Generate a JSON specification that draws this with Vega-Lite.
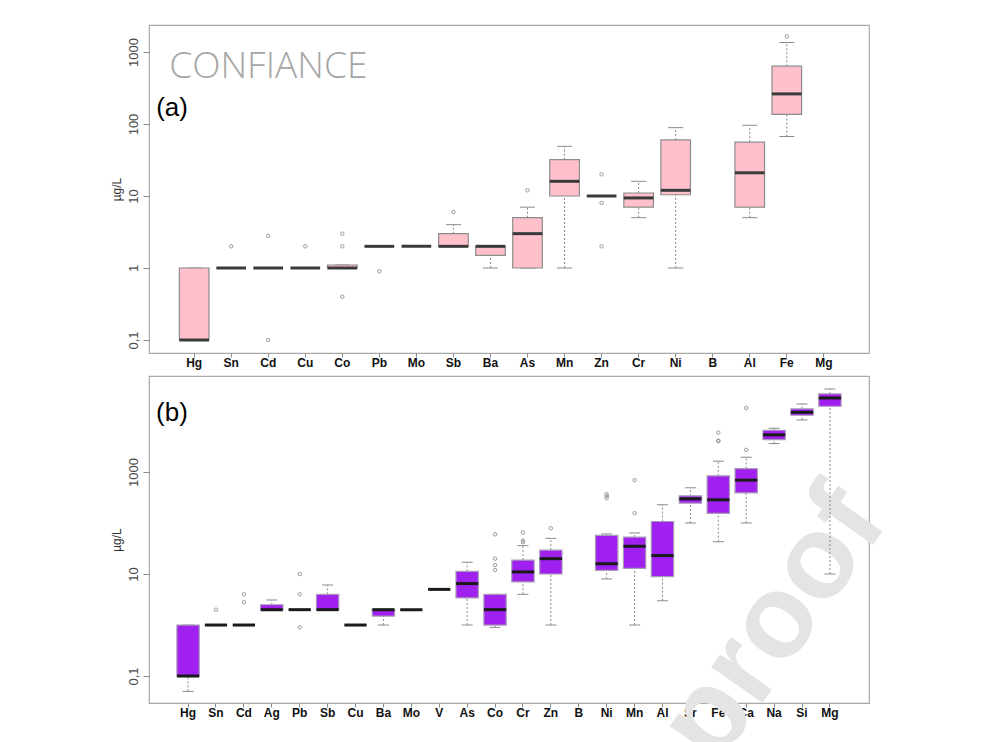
{
  "$schema": "https://vega.github.io/schema/vega-lite/v6.json",
  "background": "white",
  "padding": {"left": 109, "top": 24, "right": 5, "bottom": 5},
  "bounds": "flush",
  "spacing": 23,
  "config": {
    "view": {"stroke": "#a8a8a8", "strokeWidth": 1.2},
    "tick": {"opacity": 1},
    "point": {"opacity": 1},
    "axis": {"domain": false, "grid": false, "tickColor": "#8a8a8a", "labelFont": "Liberation Sans", "titleFont": "Liberation Sans"},
    "axisX": {"labelFontWeight": "bold", "labelFontSize": 12, "labelColor": "#111111", "tickSize": 4, "labelPadding": 0, "labelAngle": 0, "labelOverlap": false},
    "axisY": {"labelAngle": 270, "labelAlign": "center", "labelBaseline": "alphabetic", "labelFontSize": 13, "labelColor": "#4a4a4a", "tickSize": 6, "labelPadding": 6, "titleFontSize": 12, "titleFontWeight": "normal", "titleColor": "#333333", "titlePadding": 4}
  },
  "datasets": {
    "topBox": [
      {"el": "Hg", "lo": 0.1, "q1": 0.1, "med": 0.1, "q3": 1, "hi": 1},
      {"el": "Sn", "lo": 1, "q1": 1, "med": 1, "q3": 1, "hi": 1},
      {"el": "Cd", "lo": 1, "q1": 1, "med": 1, "q3": 1, "hi": 1},
      {"el": "Cu", "lo": 1, "q1": 1, "med": 1, "q3": 1, "hi": 1},
      {"el": "Co", "lo": 1, "q1": 1, "med": 1, "q3": 1.1, "hi": 1.1},
      {"el": "Pb", "lo": 2, "q1": 2, "med": 2, "q3": 2, "hi": 2},
      {"el": "Mo", "lo": 2, "q1": 2, "med": 2, "q3": 2, "hi": 2},
      {"el": "Sb", "lo": 2, "q1": 2, "med": 2, "q3": 3, "hi": 4},
      {"el": "Ba", "lo": 1, "q1": 1.5, "med": 2, "q3": 2, "hi": 2},
      {"el": "As", "lo": 1, "q1": 1, "med": 3, "q3": 5, "hi": 7},
      {"el": "Mn", "lo": 1, "q1": 10, "med": 16, "q3": 32, "hi": 49},
      {"el": "Zn", "lo": 10, "q1": 10, "med": 10, "q3": 10, "hi": 10},
      {"el": "Cr", "lo": 5, "q1": 7, "med": 9.4, "q3": 11, "hi": 16},
      {"el": "Ni", "lo": 1, "q1": 10.4, "med": 12, "q3": 60, "hi": 89},
      {"el": "Al", "lo": 5, "q1": 7, "med": 21, "q3": 56, "hi": 96},
      {"el": "Fe", "lo": 67, "q1": 136, "med": 262, "q3": 635, "hi": 1356}
    ],
    "topOut": [
      {"el": "Sn", "v": 2}, {"el": "Cd", "v": 2.8}, {"el": "Cd", "v": 0.1}, {"el": "Cu", "v": 2},
      {"el": "Co", "v": 3}, {"el": "Co", "v": 2}, {"el": "Co", "v": 0.4}, {"el": "Pb", "v": 0.9},
      {"el": "Sb", "v": 6}, {"el": "As", "v": 12}, {"el": "Zn", "v": 20}, {"el": "Zn", "v": 8},
      {"el": "Zn", "v": 2}, {"el": "Fe", "v": 1644}
    ],
    "botBox": [
      {"el": "Hg", "lo": 0.05, "q1": 0.1, "med": 0.1, "q3": 1, "hi": 1},
      {"el": "Sn", "lo": 1, "q1": 1, "med": 1, "q3": 1, "hi": 1},
      {"el": "Cd", "lo": 1, "q1": 1, "med": 1, "q3": 1, "hi": 1},
      {"el": "Ag", "lo": 2, "q1": 2, "med": 2, "q3": 2.5, "hi": 3.1},
      {"el": "Pb", "lo": 2, "q1": 2, "med": 2, "q3": 2, "hi": 2},
      {"el": "Sb", "lo": 2, "q1": 2, "med": 2, "q3": 4, "hi": 6.1},
      {"el": "Cu", "lo": 1, "q1": 1, "med": 1, "q3": 1, "hi": 1},
      {"el": "Ba", "lo": 1, "q1": 1.5, "med": 2, "q3": 2, "hi": 2},
      {"el": "Mo", "lo": 2, "q1": 2, "med": 2, "q3": 2, "hi": 2},
      {"el": "V", "lo": 5, "q1": 5, "med": 5, "q3": 5, "hi": 5},
      {"el": "As", "lo": 1, "q1": 3.4, "med": 6.5, "q3": 11.3, "hi": 17},
      {"el": "Co", "lo": 0.9, "q1": 1, "med": 2, "q3": 4, "hi": 4},
      {"el": "Cr", "lo": 4, "q1": 7, "med": 11, "q3": 18.8, "hi": 36},
      {"el": "Zn", "lo": 1, "q1": 10, "med": 20, "q3": 29.5, "hi": 50},
      {"el": "Ni", "lo": 8, "q1": 11.8, "med": 15.9, "q3": 57, "hi": 61},
      {"el": "Mn", "lo": 1, "q1": 12.9, "med": 35, "q3": 53, "hi": 64},
      {"el": "Al", "lo": 3, "q1": 8.9, "med": 23, "q3": 107, "hi": 228},
      {"el": "Sr", "lo": 100, "q1": 245, "med": 298, "q3": 341, "hi": 490},
      {"el": "Fe", "lo": 43, "q1": 154, "med": 285, "q3": 841, "hi": 1630},
      {"el": "Ca", "lo": 100, "q1": 391, "med": 692, "q3": 1170, "hi": 1950},
      {"el": "Na", "lo": 3610, "q1": 4320, "med": 5350, "q3": 6590, "hi": 7210},
      {"el": "Si", "lo": 10500, "q1": 12970, "med": 14830, "q3": 17260, "hi": 21580},
      {"el": "Mg", "lo": 10, "q1": 19450, "med": 28300, "q3": 33900, "hi": 42400}
    ],
    "botOut": [
      {"el": "Sn", "v": 2}, {"el": "Cd", "v": 4}, {"el": "Cd", "v": 2.8},
      {"el": "Pb", "v": 10}, {"el": "Pb", "v": 4}, {"el": "Pb", "v": 0.9},
      {"el": "Co", "v": 60}, {"el": "Co", "v": 20}, {"el": "Co", "v": 15}, {"el": "Co", "v": 12},
      {"el": "Cr", "v": 65}, {"el": "Cr", "v": 45}, {"el": "Cr", "v": 42},
      {"el": "Zn", "v": 79},
      {"el": "Ni", "v": 368}, {"el": "Ni", "v": 336}, {"el": "Ni", "v": 307},
      {"el": "Mn", "v": 156}, {"el": "Mn", "v": 692},
      {"el": "Fe", "v": 5930}, {"el": "Fe", "v": 4140}, {"el": "Fe", "v": 4020},
      {"el": "Ca", "v": 2720}, {"el": "Ca", "v": 17990}
    ]
  },
  "vconcat": [
    {
      "width": 720,
      "height": 328,
      "encoding": {
        "x": {"field": "el", "type": "nominal", "sort": null, "title": null,
          "scale": {"domain": ["Hg","Sn","Cd","Cu","Co","Pb","Mo","Sb","Ba","As","Mn","Zn","Cr","Ni","B","Al","Fe","Mg"], "paddingInner": 0.2, "paddingOuter": 0.82}}
      },
      "layer": [
        {"data": {"name": "topBox"}, "mark": {"type": "rule", "strokeDash": [2, 2], "color": "#8a8a8a", "strokeWidth": 1},
         "encoding": {"y": {"field": "lo", "type": "quantitative", "title": "µg/L", "scale": {"type": "log", "domain": [0.066, 2371], "nice": false}, "axis": {"values": [0.1, 1, 10, 100, 1000], "labelExpr": "datum.value < 1 ? '0,1' : format(datum.value, 'd')"}}, "y2": {"field": "q1"}}},
        {"data": {"name": "topBox"}, "mark": {"type": "rule", "strokeDash": [2, 2], "color": "#8a8a8a", "strokeWidth": 1},
         "encoding": {"y": {"field": "q3", "type": "quantitative", "title": "µg/L", "scale": {"type": "log", "domain": [0.066, 2371], "nice": false}}, "y2": {"field": "hi"}}},
        {"data": {"name": "topBox"}, "mark": {"type": "tick", "size": 15, "thickness": 1, "color": "#8a8a8a"},
         "encoding": {"y": {"field": "lo", "type": "quantitative", "title": "µg/L", "scale": {"type": "log", "domain": [0.066, 2371], "nice": false}}}},
        {"data": {"name": "topBox"}, "mark": {"type": "tick", "size": 15, "thickness": 1, "color": "#8a8a8a"},
         "encoding": {"y": {"field": "hi", "type": "quantitative", "title": "µg/L", "scale": {"type": "log", "domain": [0.066, 2371], "nice": false}}}},
        {"data": {"name": "topBox"}, "mark": {"type": "bar", "fill": "#FFC0CB", "stroke": "#8c8c8c", "strokeWidth": 1.2},
         "encoding": {"y": {"field": "q1", "type": "quantitative", "title": "µg/L", "scale": {"type": "log", "domain": [0.066, 2371], "nice": false}}, "y2": {"field": "q3"}}},
        {"data": {"name": "topBox"}, "mark": {"type": "tick", "size": 29.6, "thickness": 3, "color": "#3a3a3a"},
         "encoding": {"y": {"field": "med", "type": "quantitative", "title": "µg/L", "scale": {"type": "log", "domain": [0.066, 2371], "nice": false}}}},
        {"data": {"name": "topOut"}, "mark": {"type": "point", "shape": "circle", "filled": false, "size": 12, "stroke": "#9a9a9a", "strokeWidth": 1},
         "encoding": {"y": {"field": "v", "type": "quantitative", "title": "µg/L", "scale": {"type": "log", "domain": [0.066, 2371], "nice": false}}}},
        {"data": {"values": [{"t": "CONFIANCE"}]}, "mark": {"type": "text", "align": "left", "baseline": "alphabetic", "dx": -25, "font": "Open Sans", "fontWeight": 300, "fontSize": 37, "color": "#a6a6a6"},
         "encoding": {"x": {"datum": "Hg", "type": "nominal"}, "y": {"datum": 435, "type": "quantitative", "title": "µg/L", "scale": {"type": "log", "domain": [0.066, 2371], "nice": false}}, "text": {"field": "t"}}},
        {"data": {"values": [{"t": "(a)"}]}, "mark": {"type": "text", "align": "left", "baseline": "alphabetic", "dx": -38, "font": "Liberation Sans", "fontSize": 26, "color": "#000000"},
         "encoding": {"x": {"datum": "Hg", "type": "nominal"}, "y": {"datum": 129, "type": "quantitative", "title": "µg/L", "scale": {"type": "log", "domain": [0.066, 2371], "nice": false}}, "text": {"field": "t"}}}
      ]
    },
    {
      "width": 720,
      "height": 327,
      "encoding": {
        "x": {"field": "el", "type": "nominal", "sort": null, "title": null,
          "scale": {"domain": ["Hg","Sn","Cd","Ag","Pb","Sb","Cu","Ba","Mo","V","As","Co","Cr","Zn","B","Ni","Mn","Al","Sr","Fe","Ca","Na","Si","Mg"], "paddingInner": 0.2, "paddingOuter": 1.06}}
      },
      "layer": [
        {"data": {"values": [{"t": "proof"}]}, "mark": {"type": "text", "align": "center", "baseline": "middle", "angle": 305, "font": "Liberation Sans", "fontWeight": "bold", "fontSize": 118, "color": "#e4e4e4"},
         "encoding": {"x": {"datum": "Na", "type": "nominal"}, "y": {"datum": 1, "type": "quantitative", "title": "µg/L", "scale": {"type": "log", "domain": [0.0296, 76250], "nice": false}, "axis": {"values": [0.1, 10, 1000], "labelExpr": "datum.value < 1 ? '0,1' : format(datum.value, 'd')"}}, "text": {"field": "t"}}},
        {"data": {"name": "botBox"}, "mark": {"type": "rule", "strokeDash": [2, 2], "color": "#8a8a8a", "strokeWidth": 1},
         "encoding": {"y": {"field": "lo", "type": "quantitative", "title": "µg/L", "scale": {"type": "log", "domain": [0.0296, 76250], "nice": false}}, "y2": {"field": "q1"}}},
        {"data": {"name": "botBox"}, "mark": {"type": "rule", "strokeDash": [2, 2], "color": "#8a8a8a", "strokeWidth": 1},
         "encoding": {"y": {"field": "q3", "type": "quantitative", "title": "µg/L", "scale": {"type": "log", "domain": [0.0296, 76250], "nice": false}}, "y2": {"field": "hi"}}},
        {"data": {"name": "botBox"}, "mark": {"type": "tick", "size": 11, "thickness": 1, "color": "#8a8a8a"},
         "encoding": {"y": {"field": "lo", "type": "quantitative", "title": "µg/L", "scale": {"type": "log", "domain": [0.0296, 76250], "nice": false}}}},
        {"data": {"name": "botBox"}, "mark": {"type": "tick", "size": 11, "thickness": 1, "color": "#8a8a8a"},
         "encoding": {"y": {"field": "hi", "type": "quantitative", "title": "µg/L", "scale": {"type": "log", "domain": [0.0296, 76250], "nice": false}}}},
        {"data": {"name": "botBox"}, "mark": {"type": "bar", "fill": "#A020F0", "stroke": "#a99ab8", "strokeWidth": 1.2},
         "encoding": {"y": {"field": "q1", "type": "quantitative", "title": "µg/L", "scale": {"type": "log", "domain": [0.0296, 76250], "nice": false}}, "y2": {"field": "q3"}}},
        {"data": {"name": "botBox"}, "mark": {"type": "tick", "size": 22.2, "thickness": 3, "color": "#1a1a1a"},
         "encoding": {"y": {"field": "med", "type": "quantitative", "title": "µg/L", "scale": {"type": "log", "domain": [0.0296, 76250], "nice": false}}}},
        {"data": {"name": "botOut"}, "mark": {"type": "point", "shape": "circle", "filled": false, "size": 12, "stroke": "#9a9a9a", "strokeWidth": 1},
         "encoding": {"y": {"field": "v", "type": "quantitative", "title": "µg/L", "scale": {"type": "log", "domain": [0.0296, 76250], "nice": false}}}},
        {"data": {"values": [{"t": "(b)"}]}, "mark": {"type": "text", "align": "left", "baseline": "alphabetic", "dx": -32, "font": "Liberation Sans", "fontSize": 26, "color": "#000000"},
         "encoding": {"x": {"datum": "Hg", "type": "nominal"}, "y": {"datum": 10000, "type": "quantitative", "title": "µg/L", "scale": {"type": "log", "domain": [0.0296, 76250], "nice": false}}, "text": {"field": "t"}}}
      ]
    }
  ]
}
